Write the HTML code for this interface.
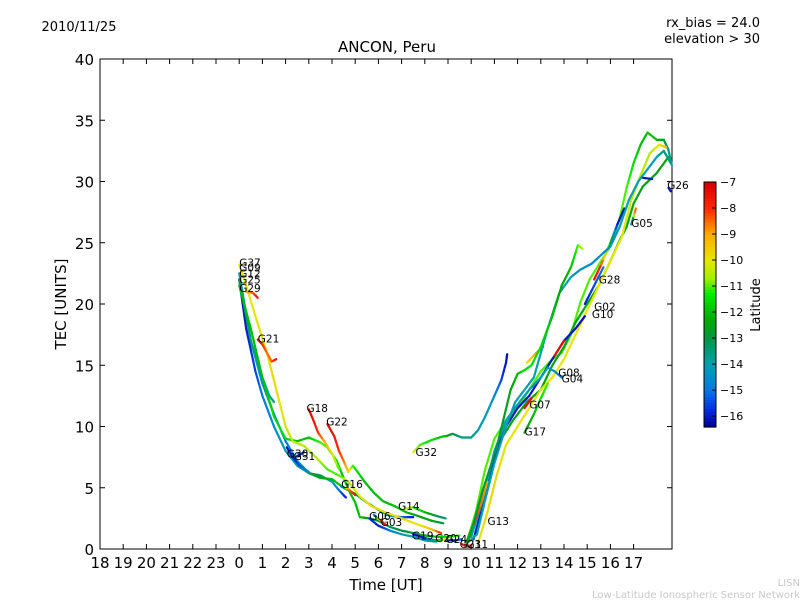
<!DOCTYPE html>
<html><head><meta charset="utf-8"><style>
body{margin:0;background:#fff}
svg{display:block;font-family:"DejaVu Sans","Liberation Sans",sans-serif}
</style></head><body>
<svg id="chart" width="800" height="600" viewBox="0 0 800 600">
<rect x="0" y="0" width="800" height="600" fill="#fff"/>
<text x="79" y="31" font-size="13" text-anchor="middle">2010/11/25</text>
<text x="760" y="27" font-size="13" text-anchor="end">rx_bias = 24.0</text>
<text x="760" y="43" font-size="13" text-anchor="end">elevation &gt; 30</text>
<text x="387" y="52" font-size="15" text-anchor="middle">ANCON, Peru</text>
<text x="386" y="590" font-size="15" text-anchor="middle">Time [UT]</text>
<text transform="translate(66,304) rotate(-90)" font-size="15" text-anchor="middle">TEC [UNITS]</text>
<text x="800" y="586" font-size="10" fill="#c8c8c8" text-anchor="end">LISN</text>
<text x="800" y="598" font-size="10" fill="#c8c8c8" text-anchor="end">Low-Latitude Ionospheric Sensor Network</text>
<g id="axes"></g>
<g id="marks"></g>
<g id="labels"></g>
<g id="cbar"></g>
<text transform="translate(760,305) rotate(-90)" font-size="13" text-anchor="middle">Latitude</text>
</svg>
<script>
const xTickLabels=["18","19","20","21","22","23","0","1","2","3","4","5","6","7","8","9","10","11","12","13","14","15","16","17"];
const xTickHours=[-6,-5,-4,-3,-2,-1,0,1,2,3,4,5,6,7,8,9,10,11,12,13,14,15,16,17];
const yTicks=[0,5,10,15,20,25,30,35,40];
const cbTicks=[-7,-8,-9,-10,-11,-12,-13,-14,-15,-16];
const trackNames=["T1","T2","T3","T4","T5","T6","T7","T8","T9","T10","T11","T12","T13","T13b","T14","T15","T16","T17","T18","A","B","C","D","E","F","G","H","I","I2","J","K","K2","L","M","M2","N"];
// each point: [hour, tec, latitude]
const tracks=[
[[0,22,-16],[0.3,18,-16],[0.7,14.5,-15.5],[1,12.5,-15],[1.5,10,-14.5],[2,8,-14],[2.5,6.8,-14],[3,6.2,-13.5],[3.5,6,-13],[4,5.5,-14],[4.3,4.8,-15],[4.6,4.2,-16]],
[[0,22.5,-14],[0.5,17,-14],[1,13.5,-14.5],[1.5,11,-15],[2,8.8,-15],[2.5,7.2,-14],[3,6.2,-13],[3.5,5.8,-12.5],[4,5.7,-12],[4.5,5,-12],[5,4.5,-13],[5.5,3.8,-13],[6,3.2,-13],[6.5,2.7,-14],[7,2.6,-15],[7.5,2.6,-16]],
[[0,22,-13],[0.5,17,-13.5],[1,14,-14],[1.3,12.5,-14],[1.5,12,-13.5]],
[[0,21.5,-12],[0.5,18,-12],[1,14,-12],[1.5,10.8,-11.5],[2,9,-11.5],[2.5,8.8,-12],[3,9.1,-12],[3.5,8.7,-11],[3.8,8.3,-11],[4.2,7.2,-11.5],[4.5,5.8,-12],[4.8,4.5,-12],[5,3.8,-12],[5.2,2.6,-12],[5.6,2.5,-12.5],[6,2.3,-13],[6.5,1.8,-13],[7,1.5,-13],[7.5,1.3,-13],[8,1.1,-12.5],[8.5,1,-12],[9,1,-11.5],[9.5,1.1,-11]],
[[0,23.2,-10],[0.3,21.5,-10],[0.7,19,-10],[1.2,16,-9.8],[1.6,13,-9.8],[2,10,-10.2],[2.3,8.8,-10.5],[2.8,8.4,-10.5],[3.3,7.5,-10.5],[3.8,6.5,-11],[4.3,6,-11],[4.7,5.5,-10.5],[5.2,4.3,-10],[5.7,3.5,-9.8],[6.3,3,-9.8],[7,2.5,-9.8],[7.7,2,-10],[8.3,1.6,-9.5],[8.7,1.3,-8]],
[[0.3,21,-9],[0.6,20.9,-8.5],[0.8,20.5,-7.5]],
[[0.8,17.1,-7.3],[1,16.7,-8],[1.2,16,-8.5],[1.4,15.3,-8.5],[1.6,15.5,-7.5]],
[[3,11.4,-7.3],[3.2,10.5,-7.5],[3.4,9.5,-8],[3.7,8.7,-9],[4,7.8,-10],[4.3,6.5,-11]],
[[3.8,10.2,-7.3],[4.1,9.2,-7.5],[4.3,8,-8],[4.5,7.2,-8.5],[4.7,6.3,-9.5],[4.9,6.8,-11],[5.1,6.3,-11.5],[5.4,5.5,-12],[5.8,4.6,-12],[6.2,3.9,-12],[6.7,3.5,-12],[7.2,3,-12],[7.7,2.7,-12.5],[8.3,2.3,-12.5],[8.8,2.1,-13]],
[[2.05,8.3,-16],[2.3,7.5,-16],[2.6,6.8,-15.5],[3,6.3,-14.5]],
[[2.5,7.6,-16],[2.8,7.9,-15.5]],
[[4.4,5.1,-16],[4.7,4.9,-9],[5,4.4,-7.5]],
[[5.8,2.8,-16],[6.1,2.3,-8],[6.3,2.0,-7.5]],
[[5.6,2.5,-15.5],[6,1.9,-16],[6.5,1.5,-15],[7,1.2,-14],[7.5,1,-14],[8,0.7,-14],[8.5,0.6,-13.5]],
[[7.1,3.3,-9.5],[7.5,3.4,-11],[8,3.0,-12],[8.5,2.7,-13],[8.9,2.5,-13.5]],
[[7.5,1.2,-16],[8,0.9,-16],[8.5,0.7,-13],[9,0.8,-9]],
[[9,0.7,-16],[9.3,0.7,-16],[9.6,0.8,-15]],
[[9.6,0.4,-7.3],[9.8,0.2,-7.5],[10,0.3,-8]],
[[7.5,7.9,-10],[7.8,8.5,-11],[8.3,8.9,-11.5],[8.8,9.2,-12],[8.9,9.2,-12],[9.2,9.4,-13],[9.6,9.1,-13.5],[10,9.1,-13.5],[10.3,9.7,-14],[10.6,10.8,-14],[11,12.5,-14.5],[11.3,13.8,-15.5],[11.5,15.2,-16],[11.55,15.9,-16.2]],
[[9.8,0.5,-11],[10.2,3,-11],[10.6,6.5,-11],[11,9,-11],[11.5,10.5,-11],[12,11.5,-11],[12.5,13,-11],[13,14.5,-11],[13.5,15.5,-11],[13.9,16,-11],[14.3,17.5,-11],[14.7,20.1,-11],[15.1,22,-11],[15.6,23.5,-11],[16,24.7,-11],[16.4,27,-11],[16.7,29.5,-11],[17,31.5,-11.5],[17.3,33,-12],[17.6,34,-12],[18,33.4,-12],[18.3,33.4,-12.5],[18.5,32.6,-13.5],[18.65,31.3,-14]],
[[9.8,0.6,-12.5],[10.3,3,-12.5],[10.8,6,-12.5],[11.3,9,-12.5],[11.8,10.5,-12.5],[12.4,12,-12.5],[13,13,-12.5],[13.5,15,-12.5],[14,16.5,-12.5],[14.5,18.5,-12.5],[15,20,-12.5],[15.5,21.5,-12.5],[16,23.5,-12.5],[16.4,25.2,-12.5],[16.7,26.3,-12.5],[17,28.2,-12.5],[17.4,29.6,-12.5],[18,30.7,-12.5],[18.5,32,-12.5]],
[[10.3,0.5,-10],[10.7,3,-9.8],[11.1,6,-9.8],[11.5,8.5,-10],[12,10,-10],[12.5,11.5,-10],[13,13,-10],[13.5,14,-10],[14,15.5,-10],[14.5,17.5,-10],[15,19.5,-10],[15.5,21.5,-10],[16,23.5,-10],[16.5,25.5,-10],[16.9,28.5,-10.3],[17.3,30.5,-10.5],[17.7,32.3,-10.5],[18.1,33,-10],[18.4,32.8,-9.3]],
[[10.1,0.8,-16],[10.5,3.5,-16],[11,7.5,-16],[11.5,10,-16],[12,11.5,-16],[12.5,12.5,-16],[13,14,-16],[13.5,15.5,-16],[14,17,-16],[14.5,18,-16],[14.9,19,-16.2]],
[[10,1,-14],[10.5,4,-14],[11,8,-14],[11.5,10.5,-14],[12,11.8,-14],[12.5,13,-14],[13,14,-14],[13.3,14.8,-14],[13.6,14.5,-14.5],[13.9,14,-15]],
[[12.3,11.5,-7.5],[12.6,12.3,-7.3]],
[[12.3,9.5,-12.5],[12.7,11,-12],[13,12.3,-11.5],[13.3,13.5,-11]],
[[10.1,2,-7.5],[10.4,3.5,-8.5],[10.7,5.5,-9]],
[[12.4,15.2,-10],[12.8,16,-9],[13.1,16.5,-8]],
[[13.6,15.8,-7.5],[14,17,-7.3]],
[[15.3,22,-7.3],[15.6,23.2,-8],[16,25,-12],[16.3,26.5,-16],[16.6,27.8,-16.2]],
[[14.9,20,-16],[15.3,21.5,-15.5],[15.7,23,-15]],
[[16.9,26.5,-16],[17.1,27.8,-7.5]],
[[9.9,0.6,-14],[10.25,1.2,-14],[10.6,4,-14],[11,7,-14],[11.5,10,-14],[11.9,12,-14],[12.3,13,-14],[12.7,14,-14],[13,16,-14],[13.3,18,-14],[13.8,20.9,-14],[14.3,22.2,-14],[14.7,22.8,-14.5],[15.2,23.3,-14.5],[15.6,24,-14.5],[16,24.7,-14.5],[16.4,26.3,-14],[16.8,28.5,-14],[17.2,30,-14],[17.6,31,-14],[18,32,-14],[18.3,32.5,-13.5],[18.6,31.5,-13.5]],
[[17.4,30.3,-16],[17.8,30.2,-16]],
[[18.5,29.5,-16],[18.6,29.2,-16]],
[[9.9,0.8,-12.5],[10.5,4.8,-13],[11.1,8.3,-13],[11.7,13,-12.5],[12,14.3,-12],[12.3,14.6,-11.5],[12.6,15,-11.5],[13,16.5,-11.5],[13.5,19,-12],[13.9,21.5,-12.5],[14.3,23,-12],[14.6,24.8,-11],[14.8,24.5,-10.5]]
];
const prnLabels=["G37","G09","G12","G25","G29","G21","G18","G22","G30","G31","G16","G06","G03","G14","G19","G20","G24","G23","G11","G13","G32","G17","G07","G08","G04","G10","G02","G28","G05","G26"];
const prnLabelHours=[0,0,0,0,0,0.8,2.9,3.75,2.05,2.35,4.4,5.6,6.1,6.85,7.45,8.45,8.9,9.5,9.8,10.7,7.6,12.3,12.5,13.75,13.9,15.2,15.3,15.5,16.9,18.45];
const prnLabelTec=[23.4,23,22.5,22,21.3,17.2,11.5,10.4,7.8,7.6,5.3,2.7,2.2,3.5,1.1,0.9,0.8,0.4,0.4,2.3,7.9,9.6,11.8,14.4,13.9,19.2,19.8,22.0,26.6,29.7];

const X0=100,X1=672,Y0=549,Y1=59,PX=23.2,H0=-6;
function xs(h){return X0+(h-H0)*PX;}
function ys(v){return Y0-(v/40)*(Y0-Y1);}
const CB_MIN=-16.42,CB_MAX=-7,CBX=704,CBW=12,CBT=182,CBB=427;
function cbY(l){return CBB-(l-CB_MIN)/(CB_MAX-CB_MIN)*(CBB-CBT);}
const STOPS=[[-16.42,0,0,140],[-15.8,0,40,220],[-15,0,120,230],[-14,0,160,175],[-13,0,150,70],[-12.3,0,170,0],[-11.3,0,235,0],[-10.7,160,240,0],[-10,230,230,0],[-9,255,170,0],[-8,255,40,0],[-7,210,0,0]];
function latColor(l){
 if(l<=STOPS[0][0])return `rgb(${STOPS[0][1]},${STOPS[0][2]},${STOPS[0][3]})`;
 for(let i=0;i<STOPS.length-1;i++){const a=STOPS[i],b=STOPS[i+1];
  if(l<=b[0]){const t=(l-a[0])/(b[0]-a[0]);
   return `rgb(${Math.round(a[1]+(b[1]-a[1])*t)},${Math.round(a[2]+(b[2]-a[2])*t)},${Math.round(a[3]+(b[3]-a[3])*t)})`;}}
 const z=STOPS[STOPS.length-1];return `rgb(${z[1]},${z[2]},${z[3]})`;}
const NS="http://www.w3.org/2000/svg";
function mk(tag,attrs,parent){const e=document.createElementNS(NS,tag);for(const k in attrs)e.setAttribute(k,attrs[k]);parent.appendChild(e);return e;}

const axes=document.getElementById('axes');
const frame=mk('rect',{x:X0,y:Y1,width:X1-X0,height:Y0-Y1,fill:'none',stroke:'#000','stroke-width':1},axes);


xTickHours.forEach((h,i)=>{
 const x=xs(h);
 const t=mk('line',{x1:x,y1:Y0,x2:x,y2:Y0-5,stroke:'#000'},axes);
 
 
 const t2=mk('line',{x1:x,y1:Y1,x2:x,y2:Y1+5,stroke:'#000'},axes);
 
 
 const lb=mk('text',{x:x,y:Y0+19,'font-size':15,'text-anchor':'middle'},axes);
 lb.textContent=xTickLabels[i];
 
 
});
yTicks.forEach(v=>{
 const y=ys(v);
 const t=mk('line',{x1:X0,y1:y,x2:X0+5,y2:y,stroke:'#000'},axes);
 
 
 const t2=mk('line',{x1:X1,y1:y,x2:X1-5,y2:y,stroke:'#000'},axes);
 
 
 const lb=mk('text',{x:X0-6,y:y+6,'font-size':15,'text-anchor':'end'},axes);
 lb.textContent=String(v);
 
 
});

const marks=document.getElementById('marks');
tracks.forEach((pts,ti)=>{
 const g=mk('g',{},marks);
 
 
 for(let i=0;i<pts.length-1;i++){
  const a=pts[i],b=pts[i+1];
  const sub=4;
  for(let s=0;s<sub;s++){
   const t0=s/sub,t1=(s+1)/sub;
   const h0=a[0]+(b[0]-a[0])*t0,v0=a[1]+(b[1]-a[1])*t0;
   const h1=a[0]+(b[0]-a[0])*t1,v1=a[1]+(b[1]-a[1])*t1;
   const l=a[2]+(b[2]-a[2])*(t0+t1)/2;
   const ln=mk('line',{x1:xs(h0),y1:ys(v0),x2:xs(h1),y2:ys(v1),stroke:latColor(l),'stroke-width':2.2,'stroke-linecap':'round'},g);
   
   
  }
 }
});

const labels=document.getElementById('labels');
prnLabels.forEach((s,i)=>{
 const t=mk('text',{x:xs(prnLabelHours[i]),y:ys(prnLabelTec[i])+4,'font-size':10.5,fill:'#000'},labels);
 t.textContent=s;
 
 
});

const cbar=document.getElementById('cbar');
const N=80;
for(let i=0;i<N;i++){
 const l0=CB_MIN+(CB_MAX-CB_MIN)*i/N,l1=CB_MIN+(CB_MAX-CB_MIN)*(i+1)/N;
 const r=mk('rect',{x:CBX,y:cbY(l1),width:CBW,height:cbY(l0)-cbY(l1)+0.6,fill:latColor((l0+l1)/2)},cbar);
 
 
}
const cbf=mk('rect',{x:CBX,y:CBT,width:CBW,height:CBB-CBT,fill:'none',stroke:'#000'},cbar);


cbTicks.forEach(v=>{
 const y=cbY(v);
 const t=mk('line',{x1:CBX+CBW-4,y1:y,x2:CBX+CBW,y2:y,stroke:'#000'},cbar);
 
 
 const lb=mk('text',{x:CBX+CBW+4,y:y+4,'font-size':11},cbar);
 lb.textContent='\u2212'+String(-v);
 
 
});
</script>
</body></html>
